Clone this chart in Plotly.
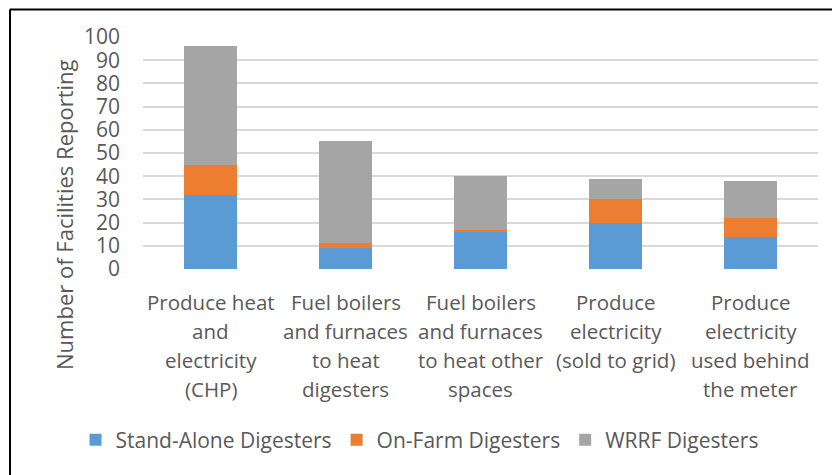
import plotly.graph_objects as go

categories = ['cat1', 'cat2', 'cat3', 'cat4', 'cat5']
category_lines = [
    ['Produce heat', 'and', 'electricity', '(CHP)'],
    ['Fuel boilers', 'and furnaces', 'to heat', 'digesters'],
    ['Fuel boilers', 'and furnaces', 'to heat other', 'spaces'],
    ['Produce', 'electricity', '(sold to grid)'],
    ['Produce', 'electricity', 'used behind', 'the meter'],
]
stand_alone = [32, 9, 16, 20, 14]
on_farm = [13, 2, 1, 10, 8]
wrrf = [51, 44, 23, 9, 16]

TEXT = '#595959'
FONT = 'Open Sans'

fig = go.Figure()
for name, vals, color in [
    ('Stand-Alone Digesters', stand_alone, '#5B9BD5'),
    ('On-Farm Digesters', on_farm, '#ED7D31'),
    ('WRRF Digesters', wrrf, '#A5A5A5'),
]:
    fig.add_trace(go.Bar(x=categories, y=vals, name=name,
                         marker=dict(color=color, line=dict(width=0))))

# category labels, one annotation per line (Excel-style line spacing)
for cat, lines in zip(categories, category_lines):
    for i, txt in enumerate(lines):
        fig.add_annotation(x=cat, y=0, xref='x', yref='y', text=txt,
                           showarrow=False, yanchor='middle',
                           yshift=-33 - 29 * i,
                           font=dict(family=FONT, size=20.5, color=TEXT))

# y axis title, centred like Excel over the whole axis area
fig.add_annotation(x=-0.117, y=0.233, xref='paper', yref='paper',
                   text='Number of Facilities Reporting', textangle=-90,
                   showarrow=False, xanchor='center', yanchor='middle',
                   font=dict(family=FONT, size=22, color=TEXT))

fig.update_layout(
    barmode='stack',
    bargap=0.61,
    width=832, height=475,
    margin=dict(l=143, r=14, t=37, b=206, autoexpand=False),
    plot_bgcolor='white', paper_bgcolor='white',
    font=dict(family=FONT, size=20, color=TEXT),
    xaxis=dict(showticklabels=False, showgrid=False, zeroline=False,
               showline=False),
    yaxis=dict(range=[0, 100], dtick=10, showgrid=True,
               gridcolor='#D9D9D9', gridwidth=1.5, zeroline=False,
               ticklabelstandoff=22, tickfont=dict(size=21, color=TEXT)),
    legend=dict(orientation='h', x=-0.1, xanchor='left', y=-0.737,
                yanchor='middle', font=dict(size=21, color=TEXT),
                itemwidth=30, traceorder='normal'),
    showlegend=True,
)

# outer frame (only top and left edges fall inside the window)
fig.add_shape(type='line', xref='paper', yref='paper',
              x0=-0.197, x1=1.3, y0=1.1185, y1=1.1185,
              line=dict(color='black', width=2))
fig.add_shape(type='line', xref='paper', yref='paper',
              x0=-0.197, x1=-0.197, y0=1.1185, y1=-1.3,
              line=dict(color='black', width=2))

fig.write_html('out.html', config={'displayModeBar': False},
               post_script="document.body.style.margin='0';")
